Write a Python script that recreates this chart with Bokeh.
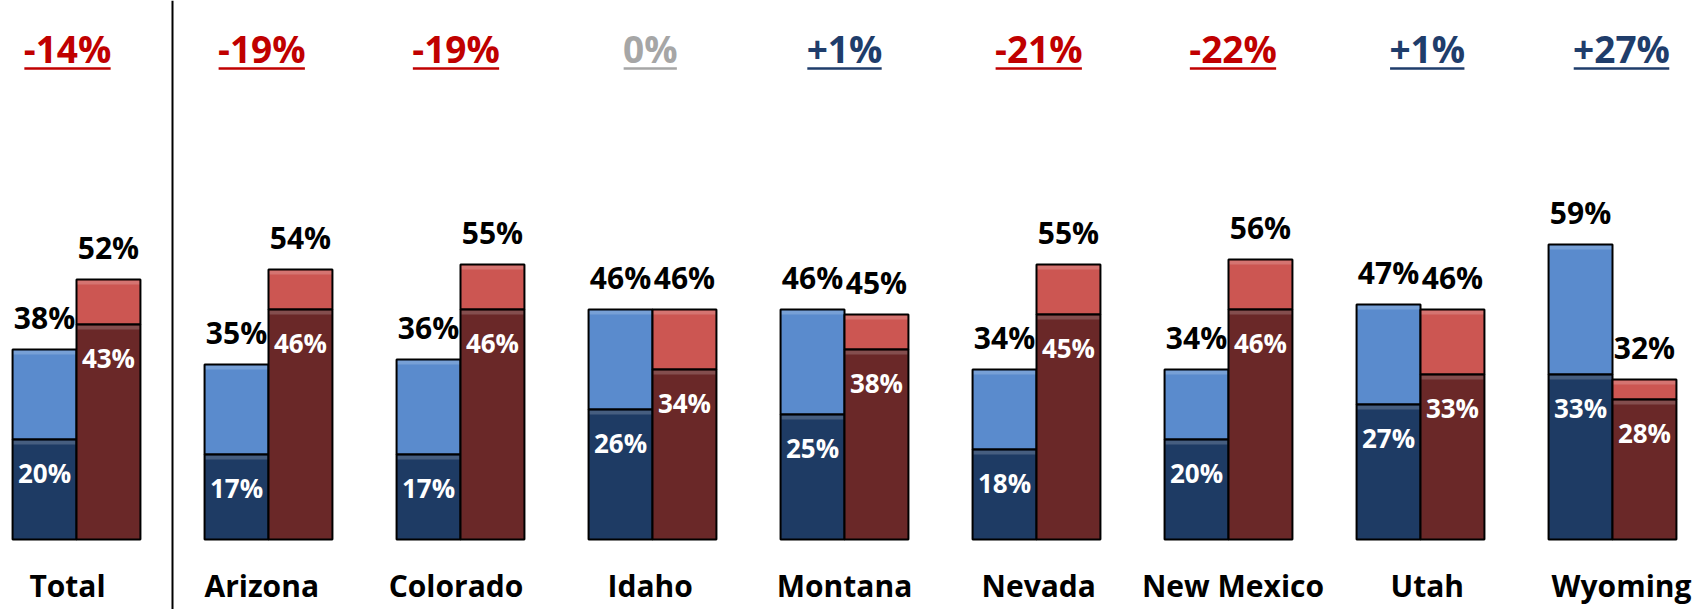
import numpy as np
from bokeh.plotting import figure
from bokeh.models import Range1d, Span, ColumnDataSource
from bokeh.core.properties import value
from bokeh.embed import file_html
from bokeh.resources import INLINE

# ---- data ----
categories = ["Total", "Arizona", "Colorado", "Idaho", "Montana", "Nevada", "New Mexico", "Utah", "Wyoming"]
blue_total = [38, 35, 36, 46, 46, 34, 34, 47, 59]
blue_inner = [20, 17, 17, 26, 25, 18, 20, 27, 33]
red_total = [52, 54, 55, 46, 45, 55, 56, 46, 32]
red_inner = [43, 46, 46, 34, 38, 45, 46, 33, 28]
changes = ["-14%", "-19%", "-19%", "0%", "+1%", "-21%", "-22%", "+1%", "+27%"]

# ---- style ----
FONT = value("Open Sans")
LIGHT_BLUE = "#5A8BCD"
DARK_BLUE = "#1E3B64"
LIGHT_RED = "#CC5652"
DARK_RED = "#6A2828"
NEG = "#C00000"
ZERO = "#A6A6A6"
POS = "#1F3D6B"

W = 1706
H = 609
PX_X = 192.0  # pixels per category
PX_Y = 5.0    # pixels per percent
x0 = -76 / PX_X
y1 = 539 / PX_Y
y0 = y1 - H / PX_Y

p = figure(width=W, height=H, output_backend="svg", toolbar_location=None,
           x_range=Range1d(x0, x0 + W / PX_X), y_range=Range1d(y0, y1),
           min_border=0, outline_line_color=None, background_fill_color="white",
           border_fill_color="white")
p.xaxis.visible = False
p.yaxis.visible = False
p.grid.visible = False

idx = np.arange(len(categories), dtype=float)
bw = 0.333

def pct(v):
    return [f"{x}%" for x in v]

def sy(px):
    # screen pixel from top -> data y
    return y1 - px / PX_Y

# bars
for left, right, tot, inner, light, dark in [
    (idx - bw, idx, blue_total, blue_inner, LIGHT_BLUE, DARK_BLUE),
    (idx, idx + bw, red_total, red_inner, LIGHT_RED, DARK_RED),
]:
    tot = np.array(tot, dtype=float)
    inner = np.array(inner, dtype=float)
    p.quad(left=left, right=right, bottom=inner, top=tot, fill_color=light,
           line_color="black", line_width=2)
    p.quad(left=left, right=right, bottom=0, top=inner, fill_color=dark,
           line_color="black", line_width=2)
    # bevel highlight strips
    hl = 5 / PX_Y
    p.quad(left=left + 0.006, right=right - 0.006, bottom=tot - hl, top=tot - 0.25,
           fill_color="white", fill_alpha=0.18, line_color=None)
    p.quad(left=left + 0.006, right=right - 0.006, bottom=inner - hl, top=inner - 0.25,
           fill_color="white", fill_alpha=0.18, line_color=None)
    cx = (left + right) / 2
    p.text(x=cx, y=tot + 32 / PX_Y, text=pct(tot.astype(int)), text_font=FONT,
           text_font_style="bold", text_font_size="30px", text_color="black",
           text_align="center", text_baseline="middle")
    p.text(x=cx, y=inner - 33 / PX_Y, text=pct(inner.astype(int)), text_font=FONT,
           text_font_style="bold", text_font_size="26px", text_color="white",
           text_align="center", text_baseline="middle")

# labels are on a slightly wider grid than the bars
label_x = idx + (-9 + 2.25 * idx) / PX_X

# category labels
p.text(x=label_x, y=sy(585), text=categories, text_font=FONT, text_font_style="bold",
       text_font_size="30px", text_color="black", text_align="center",
       text_baseline="middle")

# change labels with underline
cw = {"-": 0.322, "+": 0.572, "%": 0.866}
FS = 37
colors = [NEG if c.startswith("-") else (POS if c.startswith("+") else ZERO) for c in changes]
widths = [sum(cw.get(ch, 0.572) for ch in c) * FS / PX_X for c in changes]
chg = ColumnDataSource(dict(x=label_x, text=changes, color=colors,
                            x0=label_x - np.array(widths) / 2,
                            x1=label_x + np.array(widths) / 2))
p.text(x="x", y=sy(48), text="text", text_color="color", source=chg,
       text_font=FONT, text_font_style="bold", text_font_size=f"{FS}px",
       text_align="center", text_baseline="middle")
p.segment(x0="x0", x1="x1", y0=sy(68), y1=sy(68), line_color="color",
          line_width=2.5, source=chg)

# separator
p.add_layout(Span(location=0.5, dimension="height", line_color="black", line_width=2))

open("out.html", "w").write(file_html(p, INLINE))
